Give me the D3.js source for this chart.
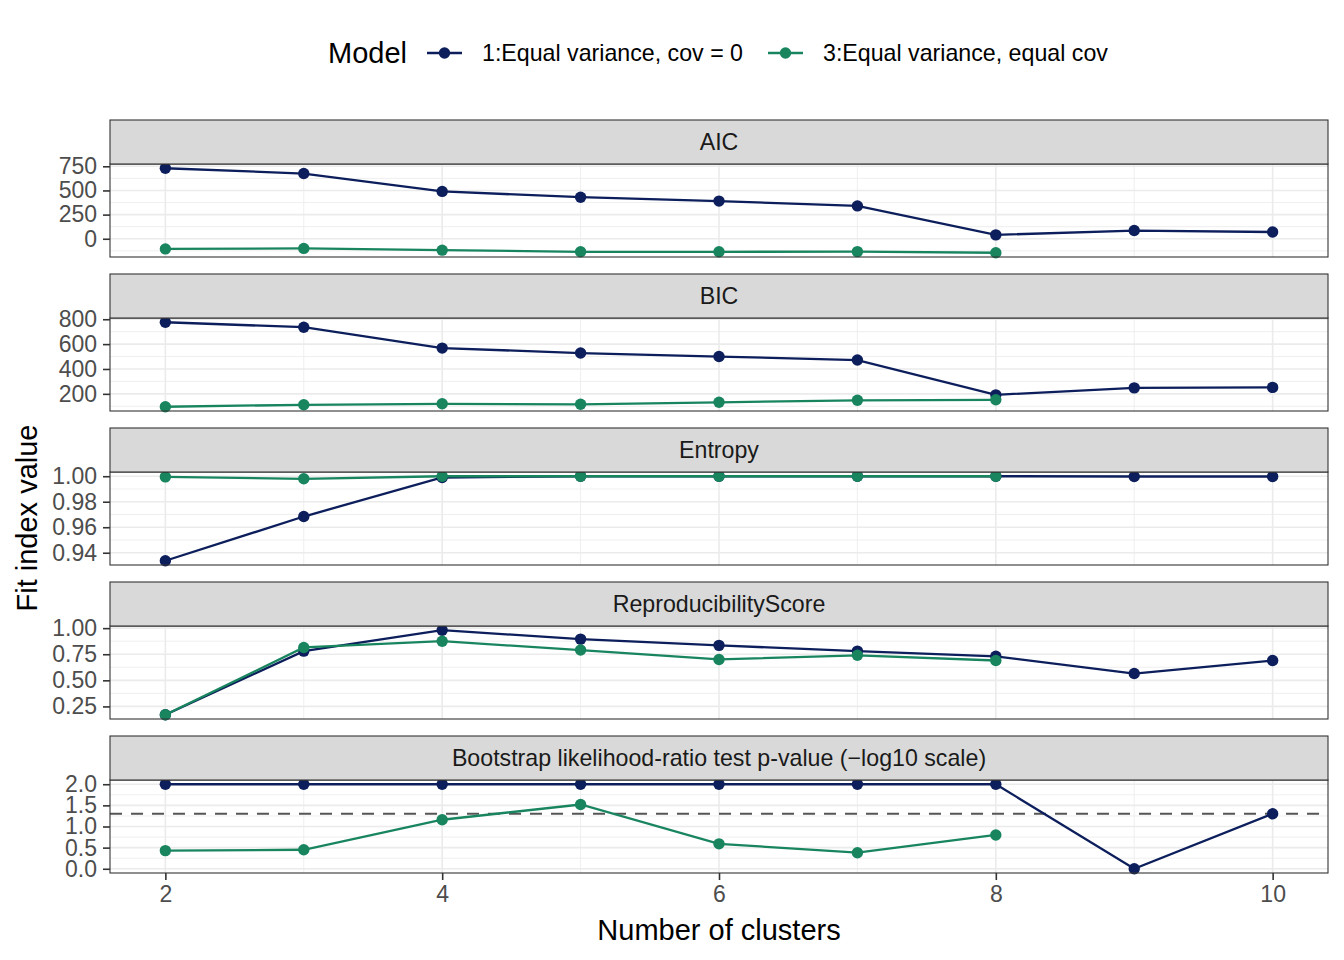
<!DOCTYPE html>
<html>
<head>
<meta charset="utf-8">
<script src="https://cdn.jsdelivr.net/npm/d3@7"></script>
<style>
  body { margin: 0; background: #fff; }
  svg { display: block; font-family: "Liberation Sans", Arial, sans-serif; }
</style>
</head>
<body>
<div id="plot"></div>
<script>
// data
const clusters = [2, 3, 4, 5, 6, 7, 8, 9, 10];
const clusters3 = [2, 3, 4, 5, 6, 7, 8];
const modelNames = ['1:Equal variance, cov = 0', '3:Equal variance, equal cov'];
const modelColors = ['#0c1e5b', '#18855f'];

const panelNames = ['AIC', 'BIC', 'Entropy', 'ReproducibilityScore',
                    'Bootstrap likelihood-ratio test p-value (\u2212log10 scale)'];

const aic1 = [730, 675, 490, 430, 390, 340, 40, 85, 70];
const aic3 = [-105, -100, -118, -135, -135, -133, -145];
const bic1 = [776, 736, 568, 528, 500, 472, 192, 248, 252];
const bic3 = [96, 112, 120, 116, 132, 148, 152];
const ent1 = [0.9337, 0.9684, 0.999, 1.0, 1.0, 1.0, 1.0, 0.9998, 0.9998];
const ent3 = [0.9995, 0.998, 1.0, 1.0, 1.0, 1.0, 1.0];
const rep1 = [0.17, 0.78, 0.98, 0.895, 0.835, 0.78, 0.73, 0.565, 0.69];
const rep3 = [0.17, 0.815, 0.875, 0.79, 0.70, 0.74, 0.69];
const blrt1 = [2, 2, 2, 2, 2, 2, 2, 0, 1.3];
const blrt3 = [0.43, 0.45, 1.16, 1.52, 0.59, 0.38, 0.80];
const blrtCutoff = 1.3;

const yTicks = [
  [0, 250, 500, 750],
  [200, 400, 600, 800],
  [0.94, 0.96, 0.98, 1.00],
  [0.25, 0.50, 0.75, 1.00],
  [0.0, 0.5, 1.0, 1.5, 2.0]
];
const yFormats = [d3.format('d'), d3.format('d'), d3.format('.2f'), d3.format('.2f'), d3.format('.1f')];
const xTicks = [2, 4, 6, 8, 10];

const series = [[aic1, aic3], [bic1, bic3], [ent1, ent3], [rep1, rep3], [blrt1, blrt3]];

// layout
const W = 1344, H = 960;
const left = 110, right = 1328;
const firstStrip = 120, stripH = 44, panelH = 93, gap = 17;
const tickFont = 23, stripFont = 23.2, titleFont = 29;

const svg = d3.select('#plot').append('svg')
  .attr('width', W).attr('height', H);

const x = d3.scaleLinear().domain([1.6, 10.4]).range([left, right]);

function minorBreaks(ticks, domain) {
  const step = ticks[1] - ticks[0];
  const out = [];
  for (let i = -1; i < ticks.length; i++) {
    const v = ticks[0] + step * (i + 0.5);
    if (v >= domain[0] && v <= domain[1]) out.push(v);
  }
  return out;
}

series.forEach(function (pair, p) {
  const stripTop = firstStrip + p * (stripH + panelH + gap);
  const top = stripTop + stripH;
  const bottom = top + panelH;

  let vals = pair[0].concat(pair[1]);
  if (p === 4) vals = vals.concat([blrtCutoff]);
  const ext = d3.extent(vals);
  const pad = (ext[1] - ext[0]) * 0.05;
  const y = d3.scaleLinear().domain([ext[0] - pad, ext[1] + pad]).range([bottom, top]);

  const g = svg.append('g');

  // grid
  const ym = minorBreaks(yTicks[p], y.domain());
  g.selectAll('.ymin').data(ym).enter().append('line')
    .attr('x1', left).attr('x2', right)
    .attr('y1', d => y(d)).attr('y2', d => y(d))
    .attr('stroke', '#ebebeb').attr('stroke-width', 0.8);
  g.selectAll('.xmin').data([3, 5, 7, 9]).enter().append('line')
    .attr('x1', d => x(d)).attr('x2', d => x(d))
    .attr('y1', top).attr('y2', bottom)
    .attr('stroke', '#ebebeb').attr('stroke-width', 0.8);
  g.selectAll('.ymaj').data(yTicks[p]).enter().append('line')
    .attr('x1', left).attr('x2', right)
    .attr('y1', d => y(d)).attr('y2', d => y(d))
    .attr('stroke', '#ebebeb').attr('stroke-width', 1.6);
  g.selectAll('.xmaj').data(xTicks).enter().append('line')
    .attr('x1', d => x(d)).attr('x2', d => x(d))
    .attr('y1', top).attr('y2', bottom)
    .attr('stroke', '#ebebeb').attr('stroke-width', 1.6);

  if (p === 4) {
    g.append('line')
      .attr('x1', left).attr('x2', right)
      .attr('y1', y(blrtCutoff)).attr('y2', y(blrtCutoff))
      .attr('stroke', '#555').attr('stroke-width', 2)
      .attr('stroke-dasharray', '12,9');
  }

  // lines and points
  pair.forEach(function (vs, m) {
    const xs = m === 0 ? clusters : clusters3;
    const pts = vs.map((v, i) => [xs[i], v]);
    g.append('path').datum(pts)
      .attr('fill', 'none').attr('stroke', modelColors[m]).attr('stroke-width', 2.3)
      .attr('d', d3.line().x(d => x(d[0])).y(d => y(d[1])));
    g.selectAll('.pt' + m).data(pts).enter().append('circle')
      .attr('cx', d => x(d[0])).attr('cy', d => y(d[1]))
      .attr('r', 5.7).attr('fill', modelColors[m]);
  });

  // panel border
  g.append('rect')
    .attr('x', left).attr('y', top).attr('width', right - left).attr('height', panelH)
    .attr('fill', 'none').attr('stroke', '#333').attr('stroke-width', 1.1);

  // strip
  g.append('rect')
    .attr('x', left).attr('y', stripTop).attr('width', right - left).attr('height', stripH)
    .attr('fill', '#d9d9d9').attr('stroke', '#333').attr('stroke-width', 1.1);
  g.append('text')
    .attr('x', (left + right) / 2).attr('y', stripTop + stripH / 2 + 8)
    .attr('text-anchor', 'middle').attr('font-size', stripFont).attr('fill', '#1a1a1a')
    .text(panelNames[p]);

  // y axis
  const ya = g.append('g').attr('transform', 'translate(' + left + ',0)')
    .call(d3.axisLeft(y).tickValues(yTicks[p]).tickFormat(yFormats[p]).tickSize(7).tickPadding(6));
  ya.select('.domain').remove();
  ya.selectAll('.tick line').attr('stroke', '#333').attr('stroke-width', 1.6);
  ya.selectAll('.tick text').attr('font-size', tickFont).attr('fill', '#4d4d4d')
    .attr('font-family', '"Liberation Sans", Arial, sans-serif');

  if (p === 4) {
    const xa = g.append('g').attr('transform', 'translate(0,' + bottom + ')')
      .call(d3.axisBottom(x).tickValues(xTicks).tickSize(7).tickPadding(6));
    xa.select('.domain').remove();
    xa.selectAll('.tick line').attr('stroke', '#333').attr('stroke-width', 1.6);
    xa.selectAll('.tick text').attr('font-size', tickFont).attr('fill', '#4d4d4d')
      .attr('font-family', '"Liberation Sans", Arial, sans-serif');
  }
});

// axis titles
svg.append('text')
  .attr('x', (left + right) / 2).attr('y', 940)
  .attr('text-anchor', 'middle').attr('font-size', titleFont).attr('fill', '#000')
  .text('Number of clusters');
svg.append('text')
  .attr('transform', 'translate(37,518) rotate(-90)')
  .attr('text-anchor', 'middle').attr('font-size', titleFont).attr('fill', '#000')
  .text('Fit index value');

// legend
const legend = svg.append('g');
legend.append('text')
  .attr('x', 328).attr('y', 63).attr('font-size', titleFont).attr('fill', '#000')
  .text('Model');
const keyX = [427, 768];
modelNames.forEach(function (name, m) {
  legend.append('line')
    .attr('x1', keyX[m]).attr('x2', keyX[m] + 35).attr('y1', 53).attr('y2', 53)
    .attr('stroke', modelColors[m]).attr('stroke-width', 2.3);
  legend.append('circle')
    .attr('cx', keyX[m] + 17.5).attr('cy', 53).attr('r', 5.7).attr('fill', modelColors[m]);
  legend.append('text')
    .attr('x', keyX[m] + 55).attr('y', 61).attr('font-size', stripFont).attr('fill', '#000')
    .text(name);
});
</script>
</body>
</html>
